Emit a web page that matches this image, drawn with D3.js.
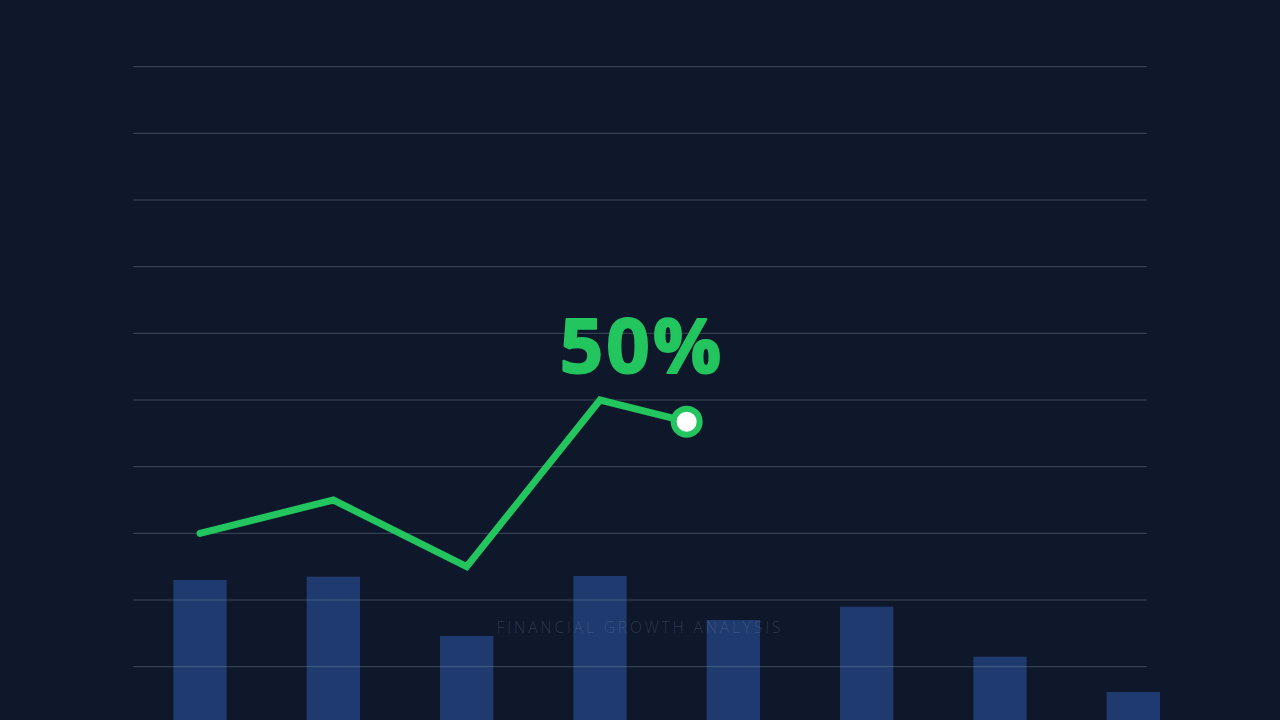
<!DOCTYPE html>
<html>
<head>
<meta charset="utf-8">
<script src="https://cdn.jsdelivr.net/npm/d3@7"></script>
<style>
  html, body { margin: 0; padding: 0; background: #0f172a; overflow: hidden; }
  svg { display: block; }
</style>
</head>
<body>
<svg id="chart" width="1280" height="720"></svg>
<script>
// ---- data ----
const categories = ["Q1", "Q2", "Q3", "Q4", "Q5", "Q6", "Q7", "Q8"];
const barValues = [23, 23.5, 14.6, 23.6, 17, 19, 11.5, 6.2];
const lineValues = [30, 35, 25, 50, 45];
const lineProgress = 0.65;          // how far the line has been drawn into its last segment
const gridTicks = [10, 20, 30, 40, 50, 60, 70, 80, 90, 100];
const headline = "50%";
const subtitle = "FINANCIAL GROWTH ANALYSIS";

// ---- layout ----
const W = 1280, H = 720;
const svg = d3.select("#chart");
const unit = H / 10.8;             // 66.67
const left = W / 9.6;              // 133.33

const x = d3.scaleBand()
  .domain(categories)
  .range([left, W - left + unit * 0.8])
  .paddingInner(0.6)
  .paddingOuter(0.3);

const y = d3.scaleLinear()
  .domain([0, 100])
  .range([H + unit * 0.2, unit]);

// bars
svg.append("g")
  .selectAll("rect")
  .data(barValues)
  .join("rect")
  .attr("x", (d, i) => x(categories[i]))
  .attr("y", d => y(d))
  .attr("width", x.bandwidth())
  .attr("height", d => y(0) - y(d))
  .attr("fill", "#1e3a6e");

// grid
svg.append("g")
  .selectAll("line")
  .data(gridTicks)
  .join("line")
  .attr("x1", left)
  .attr("x2", W - left)
  .attr("y1", d => y(d))
  .attr("y2", d => y(d))
  .attr("stroke", "#94a3b8")
  .attr("stroke-opacity", 0.35)
  .attr("stroke-width", 1);

// subtitle
svg.append("text")
  .attr("x", W / 2)
  .attr("y", 633)
  .attr("text-anchor", "middle")
  .attr("font-family", "'Open Sans', sans-serif")
  .attr("font-size", 15.5)
  .attr("font-weight", 300)
  .attr("letter-spacing", 2.9)
  .attr("fill", "#94a3b8")
  .attr("fill-opacity", 0.24)
  .text(subtitle);

// line (drawn up to progress)
const cx = (i) => x(categories[i]) + x.bandwidth() / 2;
const pts = lineValues.map((v, i) => [cx(i), y(v)]);
const n = pts.length;
const a = pts[n - 2], b = pts[n - 1];
const tip = [a[0] + (b[0] - a[0]) * lineProgress, a[1] + (b[1] - a[1]) * lineProgress];
const drawn = pts.slice(0, n - 1).concat([tip]);

svg.append("path")
  .datum(drawn)
  .attr("d", d3.line())
  .attr("fill", "none")
  .attr("stroke", "#22c55e")
  .attr("stroke-width", 7)
  .attr("stroke-linecap", "round")
  .attr("stroke-linejoin", "miter");

svg.append("circle")
  .attr("cx", tip[0])
  .attr("cy", tip[1])
  .attr("r", 13)
  .attr("fill", "#ffffff")
  .attr("stroke", "#22c55e")
  .attr("stroke-width", 6);

// headline
svg.append("text")
  .attr("x", W / 2 + 2)
  .attr("y", 373)
  .attr("text-anchor", "middle")
  .attr("font-family", "'Open Sans', sans-serif")
  .attr("font-size", 76)
  .attr("font-weight", 700)
  .attr("letter-spacing", 3)
  .attr("fill", "#22c55e")
  .attr("stroke", "#22c55e")
  .attr("stroke-width", 2)
  .attr("stroke-linejoin", "round")
  .text(headline);
</script>
</body>
</html>
